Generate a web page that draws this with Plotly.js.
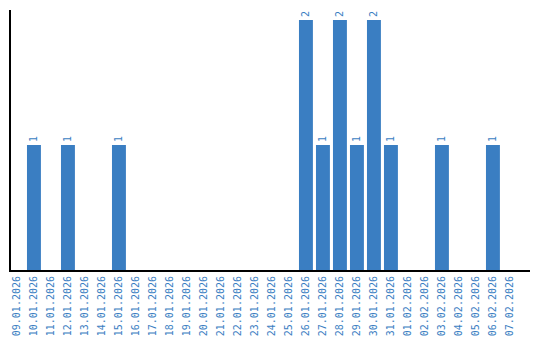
<!DOCTYPE html>
<html><head><meta charset="utf-8">
<script src="https://cdn.plot.ly/plotly-3.0.1.min.js"></script>
<style>html,body{margin:0;padding:0;background:#fff}#c{width:540px;height:340px}</style>
</head><body><div id="c"></div>
<script>
const dates = ["09.01.2026","10.01.2026","11.01.2026","12.01.2026","13.01.2026","14.01.2026","15.01.2026","16.01.2026","17.01.2026","18.01.2026","19.01.2026","20.01.2026","21.01.2026","22.01.2026","23.01.2026","24.01.2026","25.01.2026","26.01.2026","27.01.2026","28.01.2026","29.01.2026","30.01.2026","31.01.2026","01.02.2026","02.02.2026","03.02.2026","04.02.2026","05.02.2026","06.02.2026","07.02.2026"];
const counts = [0,1,0,1,0,0,1,0,0,0,0,0,0,0,0,0,0,2,1,2,1,2,1,0,0,1,0,0,1,0];
const blue = "#3a7ec2";
const labels = counts.map(v => v > 0 ? String(v) : "");
Plotly.newPlot("c", [{
  type: "bar", x: dates, y: counts, text: labels,
  textposition: "outside", textangle: -90, cliponaxis: false,
  textfont: {family: "DejaVu Sans Mono", size: 10, color: blue},
  marker: {color: blue}, hoverinfo: "none"
}], {
  width: 540, height: 340,
  margin: {l: 11, r: 10, t: 10, b: 70, pad: 0},
  paper_bgcolor: "#fff", plot_bgcolor: "#fff",
  bargap: 0.18, showlegend: false,
  xaxis: {type: "category", range: [-0.35, 30.18], tickangle: -90, showline: true, linecolor: "#000", linewidth: 2,
    ticks: "", showgrid: false, zeroline: false,
    tickfont: {family: "DejaVu Sans Mono", size: 10, color: blue}},
  yaxis: {range: [0, 2.08], showline: true, linecolor: "#000", linewidth: 2,
    showticklabels: false, ticks: "", showgrid: false, zeroline: false}
}, {staticPlot: true});
</script></body></html>
